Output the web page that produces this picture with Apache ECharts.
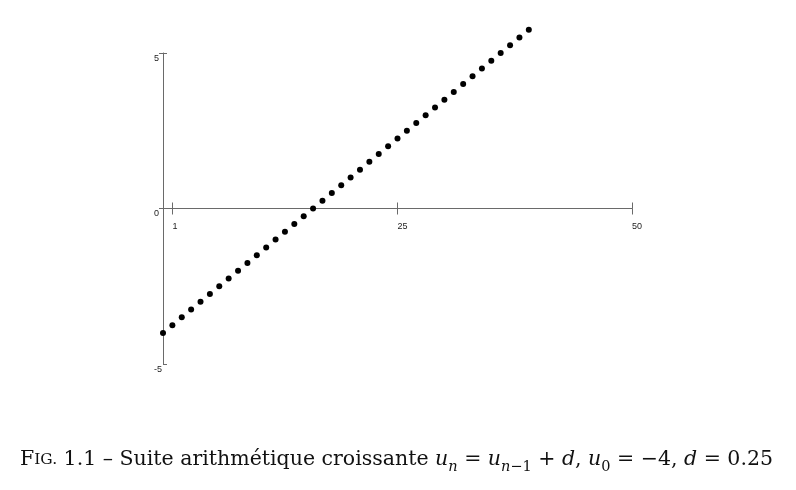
<!DOCTYPE html>
<html>
<head>
<meta charset="utf-8">
<script src="https://cdn.jsdelivr.net/npm/echarts@6/dist/echarts.min.js"></script>
<style>html,body{margin:0;padding:0;background:#fff;}#c{width:796px;height:490px;}</style>
</head>
<body>
<div id="c"></div>
<script>
// Data: n and u_n
var nValues = [0,1,2,3,4,5,6,7,8,9,10,11,12,13,14,15,16,17,18,19,20,21,22,23,24,25,26,27,28,29,30,31,32,33,34,35,36,37,38,39];
var uValues = [-4,-3.75,-3.5,-3.25,-3,-2.75,-2.5,-2.25,-2,-1.75,-1.5,-1.25,-1,-0.75,-0.5,-0.25,0,0.25,0.5,0.75,1,1.25,1.5,1.75,2,2.25,2.5,2.75,3,3.25,3.5,3.75,4,4.25,4.5,4.75,5,5.25,5.5,5.75];
var xTickValues = [1, 25, 50];
var yTickValues = [-5, 0, 5];
var captionParts = {
  sc1: 'F', sc2: 'IG.', head: ' 1.1 – Suite arithmétique croissante ',
  u: 'u', n: 'n', eq: ' = ', m1: '−1', plus: ' + ', d: 'd', comma: ', ', zero: '0', eqm4: ' = −4, ', eq025: ' = 0.25'
};

var points = nValues.map(function (n, i) { return [n, uValues[i]]; });

var chart = echarts.init(document.getElementById('c'), null, {renderer: 'canvas'});
var axisColor = '#6a6a6a';
var labelStyle = {color: '#222', fontSize: 9, fontFamily: 'Liberation Sans, Arial, sans-serif'};
var serif = '"DejaVu Serif", "Liberation Serif", serif';
var mainR = {fontFamily: serif, fontSize: 20.5, fontWeight: 'normal', lineHeight: 30, verticalAlign: 'middle', color: '#111'};
function st(extra) { return Object.assign({}, mainR, extra); }
var zeroOffset = -155.5;

chart.setOption({
  animation: false,
  backgroundColor: '#fff',
  grid: {left: 163, right: 164, top: 53, bottom: 126, containLabel: false},
  title: {
    left: 20, top: 445, padding: 0,
    text: '{sc1|' + captionParts.sc1 + '}{sc2|' + captionParts.sc2 + '}{r|' + captionParts.head + '}' +
          '{i|' + captionParts.u + '}{si|' + captionParts.n + '}{r|' + captionParts.eq + '}' +
          '{i|' + captionParts.u + '}{si|' + captionParts.n + '}{s|' + captionParts.m1 + '}{r|' + captionParts.plus + '}' +
          '{i|' + captionParts.d + '}{r|' + captionParts.comma + '}' +
          '{i|' + captionParts.u + '}{s|' + captionParts.zero + '}{r|' + captionParts.eqm4 + '}' +
          '{i|' + captionParts.d + '}{r|' + captionParts.eq025 + '}',
    textStyle: {
      fontFamily: serif, fontSize: 20.5, fontWeight: 'normal', color: '#111',
      rich: {
        sc1: st({}),
        sc2: st({fontSize: 15.5}),
        r: st({}),
        i: st({fontStyle: 'italic'}),
        si: {fontFamily: serif, fontSize: 14.5, fontWeight: 'normal', lineHeight: 18, verticalAlign: 'bottom', fontStyle: 'italic', color: '#111'},
        s: {fontFamily: serif, fontSize: 14.5, fontWeight: 'normal', lineHeight: 18, verticalAlign: 'bottom', color: '#111'}
      }
    }
  },
  xAxis: [{
    type: 'value', min: 0, max: 50, position: 'bottom', offset: zeroOffset,
    axisLine: {show: true, onZero: false, lineStyle: {color: axisColor, width: 1}},
    axisTick: {show: true, inside: false, length: 6, customValues: xTickValues, lineStyle: {color: axisColor}},
    axisLabel: Object.assign({show: true, customValues: xTickValues, margin: 14, align: 'left'}, labelStyle),
    splitLine: {show: false}
  }, {
    type: 'value', min: 0, max: 50, position: 'top', offset: zeroOffset,
    axisLine: {show: true, onZero: false, lineStyle: {color: axisColor, width: 1}},
    axisTick: {show: true, inside: false, length: 6, customValues: xTickValues, lineStyle: {color: axisColor}},
    axisLabel: {show: false},
    splitLine: {show: false}
  }],
  yAxis: [{
    type: 'value', min: -5, max: 5, position: 'left',
    axisLine: {show: true, onZero: false, lineStyle: {color: axisColor, width: 1}},
    axisTick: {show: true, inside: false, length: 4, customValues: [0, 5], lineStyle: {color: axisColor}},
    axisLabel: Object.assign({show: true, customValues: yTickValues, margin: 9, align: 'left', verticalAlign: 'top', lineHeight: 11}, labelStyle),
    splitLine: {show: false}
  }, {
    type: 'value', min: -5, max: 5, position: 'left',
    axisLine: {show: false, onZero: false},
    axisTick: {show: true, inside: true, length: 4, customValues: [-5, 5], lineStyle: {color: axisColor}},
    axisLabel: {show: false},
    splitLine: {show: false}
  }],
  series: [{
    type: 'scatter', xAxisIndex: 0, yAxisIndex: 0, clip: false,
    data: points, symbol: 'circle', symbolSize: 6,
    itemStyle: {color: '#000', opacity: 1}
  }]
});
</script>
</body>
</html>
